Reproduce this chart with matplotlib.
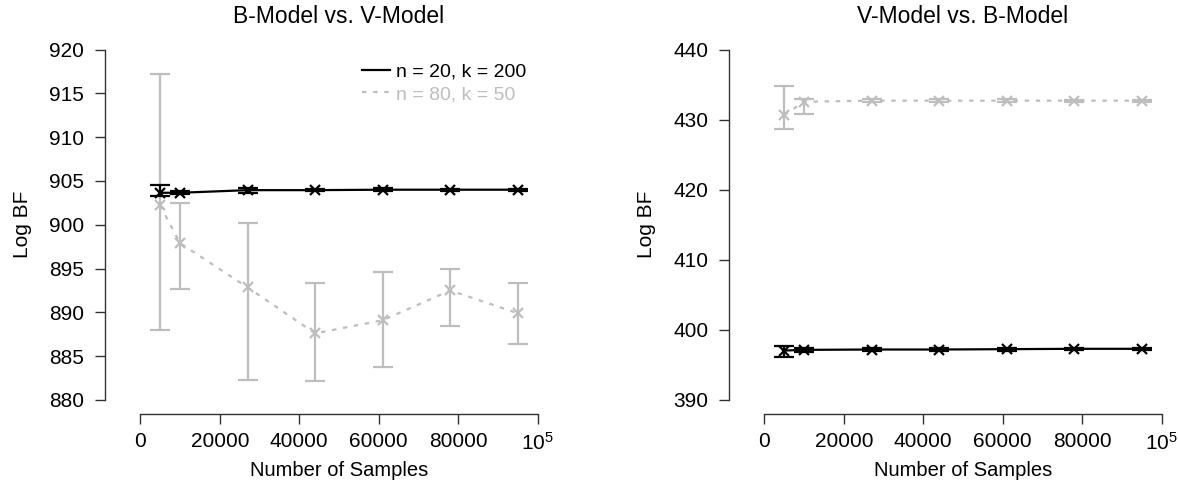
import numpy as np
import matplotlib
matplotlib.use("Agg")
import matplotlib.pyplot as plt

plt.rcParams['font.family'] = ['Liberation Sans', 'DejaVu Sans']
plt.rcParams['mathtext.default'] = 'regular'

GRAY = '#bebebe'

# data
samples = [5000, 10000, 27000, 44000, 61000, 78000, 95000]

# B-Model vs. V-Model
bv_a_mean = [903.65, 903.65, 903.95, 903.95, 904.0, 904.0, 904.0]
bv_a_low = [903.3, 903.5, 903.6, 903.8, 903.85, 903.9, 903.9]
bv_a_high = [904.5, 903.85, 904.25, 904.1, 904.15, 904.1, 904.1]

bv_b_mean = [902.2, 897.9, 892.85, 887.6, 889.1, 892.5, 889.9]
bv_b_low = [888.0, 892.65, 882.3, 882.2, 883.8, 888.5, 886.4]
bv_b_high = [917.2, 902.5, 900.2, 893.3, 894.6, 894.9, 893.3]

# V-Model vs. B-Model
vb_a_mean = [397.05, 397.15, 397.2, 397.2, 397.25, 397.3, 397.3]
vb_a_low = [396.2, 396.85, 397.0, 397.0, 397.05, 397.1, 397.15]
vb_a_high = [397.7, 397.45, 397.4, 397.4, 397.45, 397.45, 397.45]

vb_b_mean = [430.65, 432.55, 432.7, 432.7, 432.7, 432.7, 432.7]
vb_b_low = [428.6, 430.75, 432.5, 432.5, 432.5, 432.5, 432.55]
vb_b_high = [434.8, 432.9, 432.9, 432.9, 432.9, 432.85, 432.85]

labels = ["n = 20, k = 200", "n = 80, k = 50"]
xticks = [0, 20000, 40000, 60000, 80000, 100000]
xticklabels = ["0", "20000", "40000", "60000", "80000", "$10^5$"]

W, H = 1178, 482
fig = plt.figure(figsize=(W / 100, H / 100), dpi=100)


def panel(left, ylim, yticks, title, a, b, legend=False):
    ax = fig.add_axes([left / W, (H - 414) / H, 468 / W, 378.5 / H])
    for mean, low, high, col, ls in [(b[0], b[1], b[2], GRAY, (0, (2, 3))),
                                     (a[0], a[1], a[2], 'black', '-')]:
        mean = np.array(mean)
        err = [mean - np.array(low), np.array(high) - mean]
        ax.errorbar(samples, mean, yerr=err, color=col, ls='none',
                    elinewidth=1.6, capsize=7, capthick=1.6)
        ax.plot(samples, mean, color=col, ls=ls, lw=1.6, marker='x',
                ms=7, mew=1.6)
    ax.set_xlim(-8900, 108900)
    ax.set_ylim(*ylim)
    for s in ['top', 'right']:
        ax.spines[s].set_visible(False)
    ax.spines['left'].set_bounds(yticks[0], yticks[-1])
    ax.spines['bottom'].set_bounds(0, 100000)
    for s in ['left', 'bottom']:
        ax.spines[s].set_linewidth(1.0)
        ax.spines[s].set_color('#333333')
    ax.set_xticks(xticks)
    ax.set_xticklabels(xticklabels)
    ax.set_yticks(yticks)
    ax.tick_params(length=7, width=1.0, color='#333333', labelsize=15, pad=6)
    ax.tick_params(axis='y', pad=8)
    ax.set_xlabel("Number of Samples", fontsize=14.5, labelpad=5)
    ax.set_ylabel("Log BF", fontsize=15, labelpad=12)
    ax.set_title(title, fontsize=16.5, pad=9)
    if legend:
        h1 = plt.Line2D([], [], color='black', lw=1.6)
        h2 = plt.Line2D([], [], color=GRAY, lw=1.6, ls=(0, (2, 3)))
        ax.legend([h1, h2], labels, loc='upper left',
                  bbox_to_anchor=(0.549, 0.927), frameon=False,
                  fontsize=14, handlelength=1.45, handletextpad=0.3,
                  borderpad=0, borderaxespad=0, labelspacing=0.25,
                  labelcolor=['black', GRAY])
    return ax


panel(105, (878.4, 921.6), list(range(880, 921, 5)), "B-Model vs. V-Model",
      (bv_a_mean, bv_a_low, bv_a_high), (bv_b_mean, bv_b_low, bv_b_high),
      legend=True)
panel(729, (388.0, 442.0), list(range(390, 441, 10)), "V-Model vs. B-Model",
      (vb_a_mean, vb_a_low, vb_a_high), (vb_b_mean, vb_b_low, vb_b_high))

fig.savefig("out.png", dpi=100)
